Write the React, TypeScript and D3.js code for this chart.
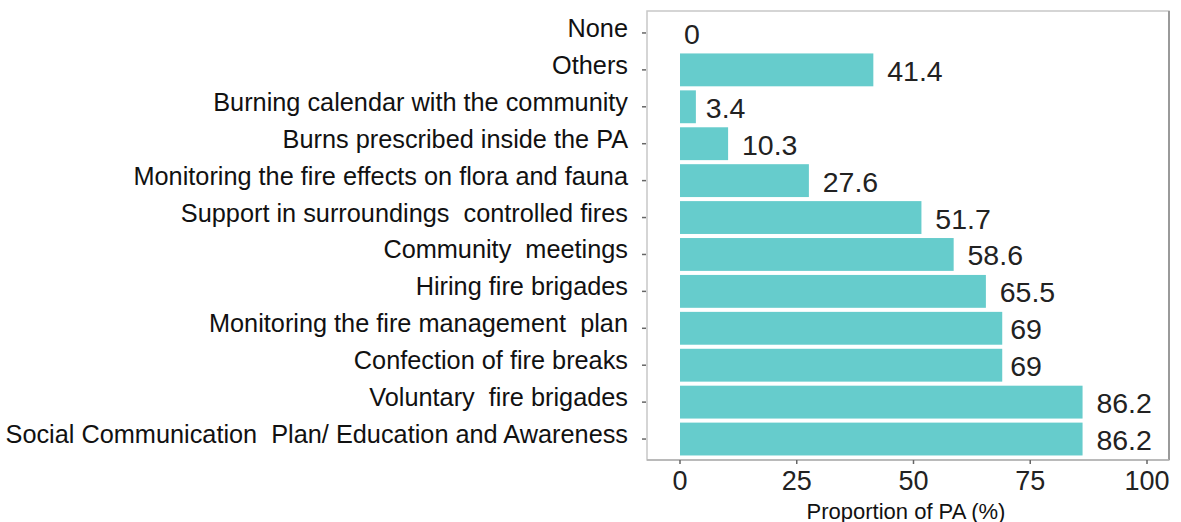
import React from "react";
import * as d3 from "d3";

const categories = [
  "None",
  "Others",
  "Burning calendar with the community",
  "Burns prescribed inside the PA",
  "Monitoring the fire effects on flora and fauna",
  "Support in surroundings  controlled fires",
  "Community  meetings",
  "Hiring fire brigades",
  "Monitoring the fire management  plan",
  "Confection of fire breaks",
  "Voluntary  fire brigades",
  "Social Communication  Plan/ Education and Awareness",
];
const values = [0, 41.4, 3.4, 10.3, 27.6, 51.7, 58.6, 65.5, 69, 69, 86.2, 86.2];
const xTicks = [0, 25, 50, 75, 100];
const xTitle = "Proportion of PA (%)";

const W = 1181;
const H = 522;
const panel = { left: 647, right: 1169, top: 11, bottom: 460 };
const FONT = "'Liberation Sans', Arial, sans-serif";
const VALUE_FS = 28.5;

function labelWidth(s: string) {
  let w = 0;
  for (const ch of s) w += ch === "." ? 0.278 : 0.556;
  return w * VALUE_FS;
}

export default function App() {
  const x = d3.scaleLinear().domain([0, 100]).range([680, 1147]);
  const y = d3
    .scaleBand<string>()
    .domain(categories)
    .range([14.5, 457.5])
    .paddingInner(0.11)
    .paddingOuter(0.055);

  return (
    <svg
      width={W}
      height={H}
      style={{ position: "absolute", left: 0, top: 0, background: "#fff" }}
      fontFamily={FONT}
    >
      <rect x={0} y={0} width={W} height={H} fill="#fff" />
      {/* panel */}
      <rect
        x={panel.left}
        y={panel.top}
        width={panel.right - panel.left}
        height={panel.bottom - panel.top}
        fill="#fff"
        stroke="#c8c8c8"
        strokeWidth={1.5}
      />
      <line x1={panel.right} x2={panel.right} y1={panel.top} y2={panel.bottom} stroke="#9a9a9a" strokeWidth={2} />
      <line x1={panel.left} x2={panel.right} y1={panel.bottom} y2={panel.bottom} stroke="#b0b0b0" strokeWidth={1.5} />

      {/* bars */}
      {categories.map((c, i) => (
        <rect
          key={c}
          x={x(0)}
          y={y(c)!}
          width={x(values[i]) - x(0)}
          height={y.bandwidth()}
          fill="#66cccc"
        />
      ))}

      {/* value labels */}
      {categories.map((c, i) => {
        const s = String(values[i]);
        return (
          <text
            key={"v" + c}
            x={x(values[i]) + 0.25 * labelWidth(s)}
            y={y(c)! + y.bandwidth() / 2 + 1}
            dominantBaseline="central"
            fontSize={VALUE_FS}
            fill="#222"
          >
            {s}
          </text>
        );
      })}

      {/* y ticks & labels */}
      {categories.map((c) => {
        const cy = y(c)! + y.bandwidth() / 2;
        return (
          <g key={"y" + c}>
            <line x1={642} x2={646} y1={cy} y2={cy} stroke="#666" strokeWidth={1.5} />
            <text
              x={628}
              y={cy - 5}
              textAnchor="end"
              dominantBaseline="central"
              fontSize={25.3}
              fill="#111"
              style={{ whiteSpace: "pre" }}
            >
              {c}
            </text>
          </g>
        );
      })}

      {/* x ticks & labels */}
      {xTicks.map((t) => (
        <g key={"x" + t}>
          <line x1={x(t)} x2={x(t)} y1={panel.bottom} y2={panel.bottom + 4} stroke="#666" strokeWidth={1.5} />
          <text
            x={x(t)}
            y={481}
            textAnchor="middle"
            dominantBaseline="central"
            fontSize={27}
            fill="#222"
          >
            {t}
          </text>
        </g>
      ))}

      <text
        x={(panel.left + panel.right) / 2 - 2}
        y={511}
        textAnchor="middle"
        dominantBaseline="central"
        fontSize={22}
        fill="#111"
      >
        {xTitle}
      </text>
    </svg>
  );
}
